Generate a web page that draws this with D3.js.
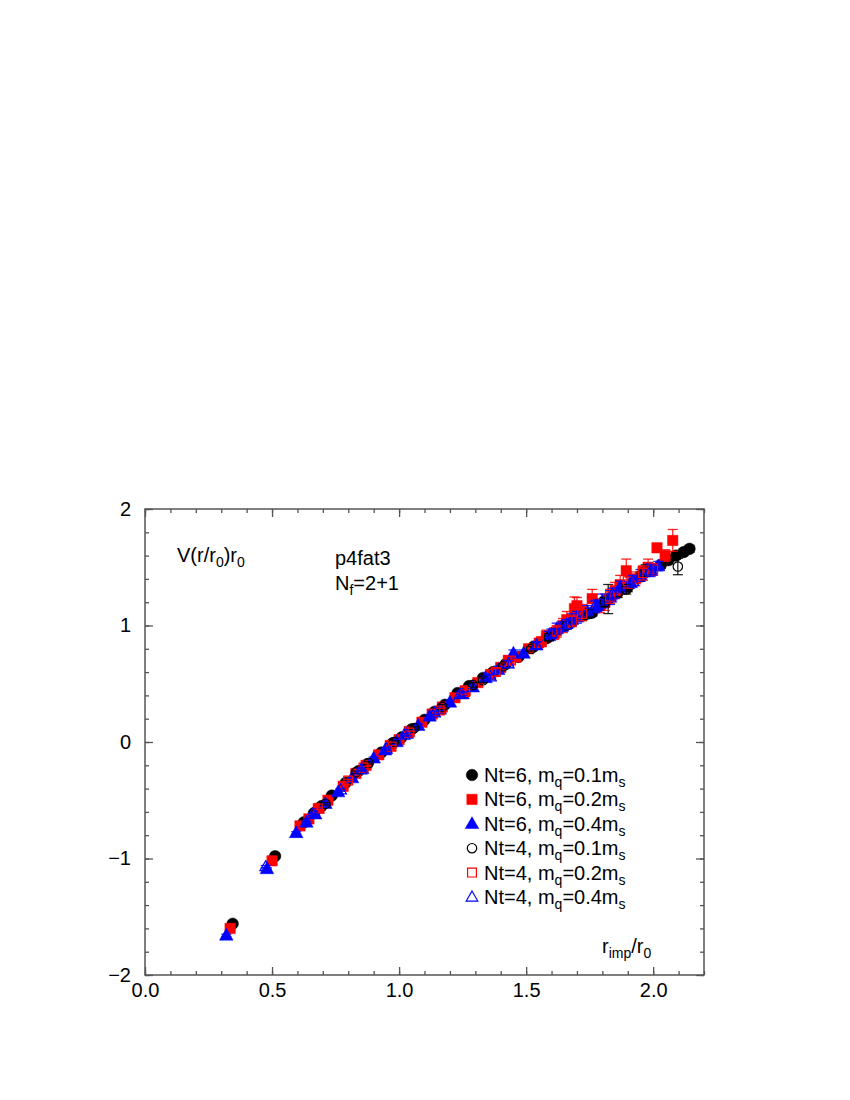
<!DOCTYPE html>
<html>
<head>
<meta charset="utf-8">
<script src="https://cdn.jsdelivr.net/npm/d3@7"></script>
<style>
  body { margin: 0; background: #fff; }
  text { font-family: "Liberation Sans", Arial, Helvetica, sans-serif; }
</style>
</head>
<body>
<svg id="chart" width="850" height="1100"></svg>
<script>
// [x, y, err]
const nt6_01 = [
  [0.345,-1.56,0.01],[0.512,-0.98,0.01],[0.625,-0.69,0.01],[0.665,-0.61,0.01],
  [0.695,-0.55,0.01],[0.735,-0.46,0.01],[0.79,-0.35,0.01],[0.84,-0.25,0.01],
  [0.875,-0.19,0.01],[0.93,-0.09,0.01],[0.975,-0.01,0.01],[1.01,0.04,0.01],
  [1.05,0.11,0.01],[1.10,0.19,0.01],[1.14,0.26,0.01],[1.18,0.32,0.015],
  [1.23,0.42,0.015],[1.275,0.48,0.015],[1.33,0.55,0.02],[1.37,0.60,0.02],
  [1.42,0.67,0.02],[1.47,0.73,0.02],[1.53,0.82,0.02],[1.58,0.89,0.02],
  [1.63,0.97,0.025],[1.68,1.03,0.03],[1.73,1.09,0.03],[1.76,1.11,0.03],
  [1.823,1.227,0.125],[1.86,1.28,0.04],[1.90,1.33,0.04],[1.95,1.42,0.04],
  [1.99,1.47,0.03],[2.03,1.52,0.03],[2.06,1.56,0.03],[2.09,1.60,0.03],
  [2.12,1.63,0.03],[2.143,1.658,0.03]
];
const nt6_02 = [
  [0.335,-1.60,0.01],[0.50,-1.02,0.01],[0.61,-0.72,0.01],[0.645,-0.66,0.01],
  [0.685,-0.57,0.01],[0.72,-0.50,0.01],[0.78,-0.38,0.01],[0.83,-0.27,0.01],
  [0.87,-0.20,0.01],[0.92,-0.11,0.01],[0.965,-0.03,0.01],[1.00,0.02,0.01],
  [1.04,0.09,0.015],[1.09,0.17,0.015],[1.13,0.24,0.015],[1.17,0.30,0.02],
  [1.22,0.38,0.02],[1.26,0.44,0.02],[1.31,0.51,0.02],[1.36,0.58,0.03],
  [1.40,0.64,0.03],[1.43,0.70,0.04],[1.46,0.73,0.03],[1.51,0.80,0.03],
  [1.56,0.86,0.04],[1.58,0.91,0.05],[1.61,0.93,0.05],[1.645,1.00,0.06],
  [1.66,1.05,0.07],[1.69,1.145,0.1],[1.70,1.17,0.07],[1.72,1.12,0.06],
  [1.76,1.23,0.08],[1.79,1.17,0.06],[1.81,1.20,0.07],[1.85,1.30,0.07],
  [1.87,1.35,0.08],[1.894,1.47,0.1],[1.93,1.40,0.06],[1.96,1.46,0.05],
  [1.98,1.50,0.07],[2.015,1.667,0.03],[2.047,1.60,0.05],[2.077,1.73,0.094]
];
const nt6_04 = [
  [0.32,-1.66,0.01],[0.48,-1.09,0.01],[0.595,-0.78,0.01],[0.635,-0.69,0.01],
  [0.67,-0.62,0.01],[0.71,-0.53,0.01],[0.76,-0.43,0.01],[0.815,-0.31,0.01],
  [0.855,-0.23,0.01],[0.90,-0.14,0.01],[0.945,-0.07,0.01],[0.99,0.00,0.01],
  [1.03,0.07,0.01],[1.075,0.14,0.015],[1.12,0.22,0.015],[1.16,0.28,0.015],
  [1.20,0.34,0.02],[1.25,0.41,0.02],[1.29,0.47,0.02],[1.34,0.55,0.02],
  [1.39,0.62,0.03],[1.45,0.76,0.03],[1.49,0.76,0.03],[1.54,0.83,0.03],
  [1.59,0.91,0.04],[1.62,0.97,0.05],[1.64,0.99,0.04],[1.68,1.05,0.05],
  [1.70,1.07,0.05],[1.74,1.12,0.05],[1.78,1.17,0.05],[1.80,1.21,0.06],
  [1.83,1.24,0.06],[1.87,1.33,0.05],[1.91,1.37,0.05],[1.95,1.43,0.05],
  [1.99,1.48,0.05],[2.02,1.51,0.04]
];
const nt4_01 = [
  [0.71,-0.53,0.01],[0.83,-0.26,0.01],[0.88,-0.18,0.01],[0.98,0.00,0.01],
  [1.06,0.12,0.01],[1.17,0.30,0.02],[1.29,0.49,0.02],[1.33,0.53,0.02],
  [1.41,0.65,0.02],[1.52,0.80,0.02],[1.59,0.90,0.03],[1.66,1.00,0.03],
  [1.75,1.10,0.03],[1.81,1.20,0.04],[1.894,1.31,0.04],[1.97,1.47,0.05],
  [2.097,1.506,0.07]
];
const nt4_02 = [
  [0.68,-0.57,0.01],[0.80,-0.33,0.01],[0.86,-0.22,0.01],[0.97,-0.04,0.01],
  [1.04,0.08,0.015],[1.16,0.27,0.02],[1.26,0.43,0.02],[1.38,0.60,0.03],
  [1.44,0.70,0.03],[1.55,0.85,0.04],[1.62,0.95,0.05],[1.68,1.04,0.05],
  [1.72,1.10,0.06],[1.83,1.25,0.06],[1.90,1.38,0.06],[1.96,1.45,0.06],
  [2.00,1.48,0.05]
];
const nt4_04 = [
  [0.475,-1.07,0.01],[0.66,-0.62,0.01],[0.77,-0.41,0.01],[0.85,-0.24,0.01],
  [0.95,-0.06,0.01],[1.02,0.06,0.01],[1.14,0.25,0.015],[1.24,0.41,0.02],
  [1.36,0.56,0.02],[1.43,0.67,0.03],[1.54,0.83,0.03],[1.60,0.93,0.04],
  [1.66,1.01,0.04],[1.77,1.16,0.05],[1.84,1.27,0.05],[1.92,1.38,0.05],
  [1.99,1.47,0.05]
];

const xTicks = [0, 0.5, 1.0, 1.5, 2.0];
const yTicks = [-2, -1, 0, 1, 2];
const legendNt = ["6", "6", "6", "4", "4", "4"];
const legendMq = ["0.1", "0.2", "0.4", "0.1", "0.2", "0.4"];

const series = [
  { data: nt6_01, color: "#000000", shape: "circle",   filled: true },
  { data: nt6_02, color: "#ff0000", shape: "square",   filled: true },
  { data: nt6_04, color: "#0000ff", shape: "triangle", filled: true },
  { data: nt4_01, color: "#000000", shape: "circle",   filled: false },
  { data: nt4_02, color: "#ff0000", shape: "square",   filled: false },
  { data: nt4_04, color: "#0000ff", shape: "triangle", filled: false }
];

const svg = d3.select("#chart");
const x = d3.scaleLinear().domain([0, 2.2]).range([145, 704]);
const y = d3.scaleLinear().domain([-2, 2]).range([975, 509]);
const axisColor = "#555";
const FONT = "20px";
const SUB = "14px";

// marker path, centred at 0,0
function marker(shape, filled) {
  const sz = filled ? 1 : 0.85;
  if (shape === "circle") return d3.symbol(d3.symbolCircle, (filled ? 105 : 70))();
  if (shape === "square") { const h = 5.2 * sz; return `M${-h},${-h}H${h}V${h}H${-h}Z`; }
  const s = 6.8 * sz;
  return `M0,${-s * 1.05}L${s},${s * 0.7}L${-s},${s * 0.7}Z`;
}

// axes
const fmtX = d3.format(".1f");
const fmtY = d3.format("d");
const gx = svg.append("g").attr("transform", "translate(0,975)")
  .call(d3.axisBottom(x).tickValues(xTicks).tickFormat(fmtX).tickSize(-8).tickPadding(8));
const gxm = svg.append("g").attr("transform", "translate(0,975)")
  .call(d3.axisBottom(x).tickValues(d3.range(0, 2.25, 0.1)).tickFormat("").tickSize(-4));
const gxt = svg.append("g").attr("transform", "translate(0,509)")
  .call(d3.axisTop(x).tickValues(xTicks).tickFormat("").tickSize(-8));
const gxtm = svg.append("g").attr("transform", "translate(0,509)")
  .call(d3.axisTop(x).tickValues(d3.range(0, 2.25, 0.1)).tickFormat("").tickSize(-4));
const gy = svg.append("g").attr("transform", "translate(145,0)")
  .call(d3.axisLeft(y).tickValues(yTicks).tickFormat(fmtY).tickSize(-8).tickPadding(14));
const gym = svg.append("g").attr("transform", "translate(145,0)")
  .call(d3.axisLeft(y).tickValues(d3.range(-2, 2.01, 0.2)).tickFormat("").tickSize(-4));
const gyr = svg.append("g").attr("transform", "translate(704,0)")
  .call(d3.axisRight(y).tickValues(yTicks).tickFormat("").tickSize(-8));
const gyrm = svg.append("g").attr("transform", "translate(704,0)")
  .call(d3.axisRight(y).tickValues(d3.range(-2, 2.01, 0.2)).tickFormat("").tickSize(-4));

[gx, gxm, gxt, gxtm, gy, gym, gyr, gyrm].forEach(g => {
  g.select(".domain").remove();
  g.selectAll(".tick line").attr("stroke", axisColor).attr("stroke-width", 1.3);
  g.selectAll(".tick text").attr("fill", "#000").style("font-size", FONT)
    .style("font-family", "'Liberation Sans', Arial, sans-serif");
});

svg.append("rect")
  .attr("x", x(0)).attr("y", y(2))
  .attr("width", x(2.2) - x(0)).attr("height", y(-2) - y(2))
  .attr("fill", "none").attr("stroke", axisColor).attr("stroke-width", 1.5);

// data
series.forEach(s => {
  const g = svg.append("g");
  const eb = g.selectAll("g.eb").data(s.data).join("g")
    .attr("stroke", s.color).attr("stroke-width", 1.3).attr("stroke-opacity", 0.85);
  eb.append("line")
    .attr("x1", d => x(d[0])).attr("x2", d => x(d[0]))
    .attr("y1", d => y(d[1] - d[2])).attr("y2", d => y(d[1] + d[2]));
  eb.append("line")
    .attr("x1", d => x(d[0]) - 5).attr("x2", d => x(d[0]) + 5)
    .attr("y1", d => y(d[1] + d[2])).attr("y2", d => y(d[1] + d[2]));
  eb.append("line")
    .attr("x1", d => x(d[0]) - 5).attr("x2", d => x(d[0]) + 5)
    .attr("y1", d => y(d[1] - d[2])).attr("y2", d => y(d[1] - d[2]));

  g.selectAll("path.pt").data(s.data).join("path")
    .attr("class", "pt")
    .attr("transform", d => `translate(${x(d[0])},${y(d[1])})`)
    .attr("d", marker(s.shape, s.filled))
    .attr("fill", s.filled ? s.color : "none")
    .attr("stroke", s.color)
    .attr("stroke-width", s.filled ? 0.5 : 1.2);
});

// labels
const ylab = svg.append("text").attr("x", 177).attr("y", 562).style("font-size", FONT);
ylab.append("tspan").text("V(r/r");
ylab.append("tspan").attr("dy", 5).style("font-size", SUB).text("0");
ylab.append("tspan").attr("dy", -5).text(")r");
ylab.append("tspan").attr("dy", 5).style("font-size", SUB).text("0");

svg.append("text").attr("x", 335).attr("y", 565).style("font-size", FONT).text("p4fat3");
const nf = svg.append("text").attr("x", 335).attr("y", 590).style("font-size", FONT);
nf.append("tspan").text("N");
nf.append("tspan").attr("dy", 5).style("font-size", SUB).text("f");
nf.append("tspan").attr("dy", -5).text("=2+1");

const xlab = svg.append("text").attr("x", 602).attr("y", 953).style("font-size", FONT);
xlab.append("tspan").text("r");
xlab.append("tspan").attr("dy", 5).style("font-size", SUB).text("imp");
xlab.append("tspan").attr("dy", -5).text("/r");
xlab.append("tspan").attr("dy", 5).style("font-size", SUB).text("0");

// legend
const leg = svg.append("g");
series.forEach((s, i) => {
  const cy = 775 + i * 24.4;
  leg.append("path")
    .attr("transform", `translate(472,${cy})`)
    .attr("d", marker(s.shape, s.filled))
    .attr("fill", s.filled ? s.color : "none")
    .attr("stroke", s.color)
    .attr("stroke-width", s.filled ? 0.5 : 1.2);
  const t = leg.append("text").attr("x", 484).attr("y", cy + 7).style("font-size", FONT);
  t.append("tspan").text(`Nt=${legendNt[i]}, m`);
  t.append("tspan").attr("dy", 5).style("font-size", SUB).text("q");
  t.append("tspan").attr("dy", -5).text(`=${legendMq[i]}m`);
  t.append("tspan").attr("dy", 5).style("font-size", SUB).text("s");
});
</script>
</body>
</html>
